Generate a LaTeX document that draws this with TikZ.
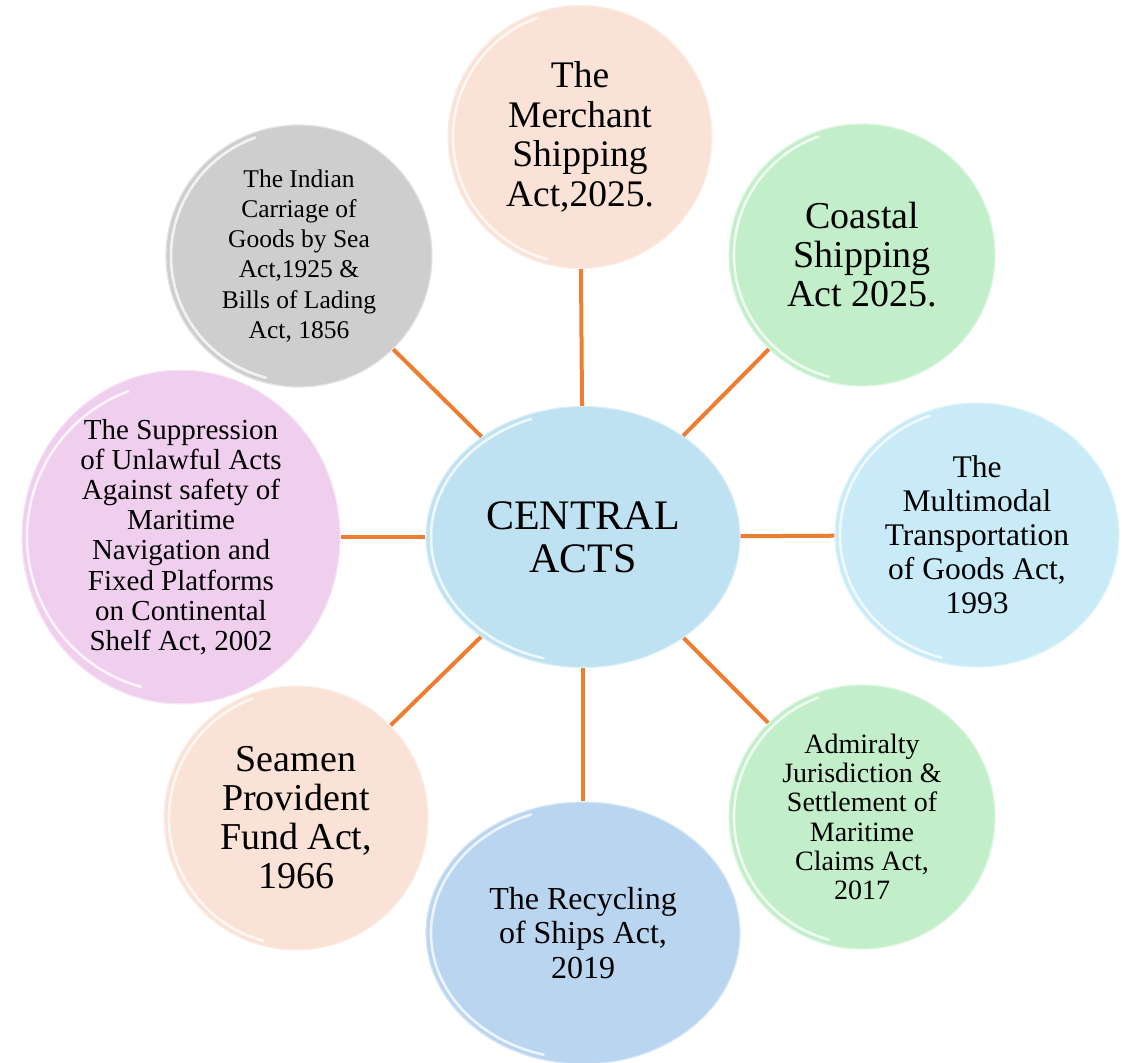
\documentclass[tikz,border=0pt]{standalone}
\usepackage{fontspec}
\setmainfont{Liberation Serif}
\usetikzlibrary{shapes.geometric}
\definecolor{linkor}{RGB}{237,125,49}
\definecolor{cpeach}{RGB}{250,226,214}
\definecolor{cgreen}{RGB}{194,239,202}
\definecolor{cblue}{RGB}{201,235,248}
\definecolor{ccent}{RGB}{190,226,242}
\definecolor{crec}{RGB}{186,213,240}
\definecolor{cpink}{RGB}{240,206,238}
\definecolor{cgray}{RGB}{206,206,206}
\begin{document}
\begin{tikzpicture}[x=1pt,y=-1pt,
  bubble/.style={ellipse, inner sep=0pt, align=center, text=black,
    draw=#1!55!white, line width=1.2pt, fill=#1},
  link/.style={draw=linkor, line width=4pt},
  gloss/.style={draw=white, line width=2.6pt, opacity=0.75, line cap=round}]
\useasboundingbox (0,0) rectangle (1122,1063);

\node[bubble=ccent, minimum width=314, minimum height=261,
  font=\fontsize{42}{43}\selectfont] (cen) at (583,537) {CENTRAL\\ACTS};
\node[bubble=cpeach, minimum width=264, minimum height=263,
  font=\fontsize{37.5}{39.5}\selectfont] (mer) at (580,137)
  {The\\Merchant\\Shipping\\Act,2025.};
\node[bubble=cgreen, minimum width=266, minimum height=262,
  font=\fontsize{38}{39}\selectfont] (coa) at (862,255)
  {Coastal\\Shipping\\Act 2025.};
\node[bubble=cblue, minimum width=284, minimum height=264,
  font=\fontsize{31.5}{34}\selectfont] (mul) at (977,535)
  {The\\Multimodal\\Transportation\\of Goods Act,\\1993};
\node[bubble=cgreen, minimum width=266, minimum height=264,
  font=\fontsize{28}{29.2}\selectfont] (adm) at (862,817)
  {Admiralty\\Jurisdiction \&\\Settlement of\\Maritime\\Claims Act,\\2017};
\node[bubble=crec, minimum width=314, minimum height=262,
  font=\fontsize{32}{34.5}\selectfont] (rec) at (583,933)
  {The Recycling\\of Ships Act,\\2019};
\node[bubble=cpeach, minimum width=264, minimum height=264,
  font=\fontsize{38}{39}\selectfont] (sea) at (296,818)
  {Seamen\\Provident\\Fund Act,\\1966};
\node[bubble=cpink, minimum width=318, minimum height=320,
  font=\fontsize{29}{30.2}\selectfont] (sup) at (181,537)
  {The Suppression\\of Unlawful Acts\\Against safety of\\Maritime\\Navigation and\\Fixed Platforms\\on Continental\\Shelf Act, 2002};
\node[bubble=cgray, minimum width=266, minimum height=262,
  font=\fontsize{25.5}{30.2}\selectfont] (ind) at (299,256)
  {The Indian\\Carriage of\\Goods by Sea\\Act,1925 \&\\Bills of Lading\\Act, 1856};

\foreach \n/\a/\b in {cen/157/130.5, mer/132/131.5, coa/133/131, mul/142/132,
  adm/133/132, rec/157/131, sea/132/132, sup/159/160, ind/133/131}{
  \draw[gloss] (\n.center) ++(105:{\a-5} and {\b-5})
    arc[start angle=105, end angle=250, x radius=\a-5, y radius=\b-5];
}

\foreach \t in {mer,coa,mul,adm,rec,sea,sup,ind}{
  \draw[link] (cen) -- (\t);
}
\end{tikzpicture}
\end{document}
